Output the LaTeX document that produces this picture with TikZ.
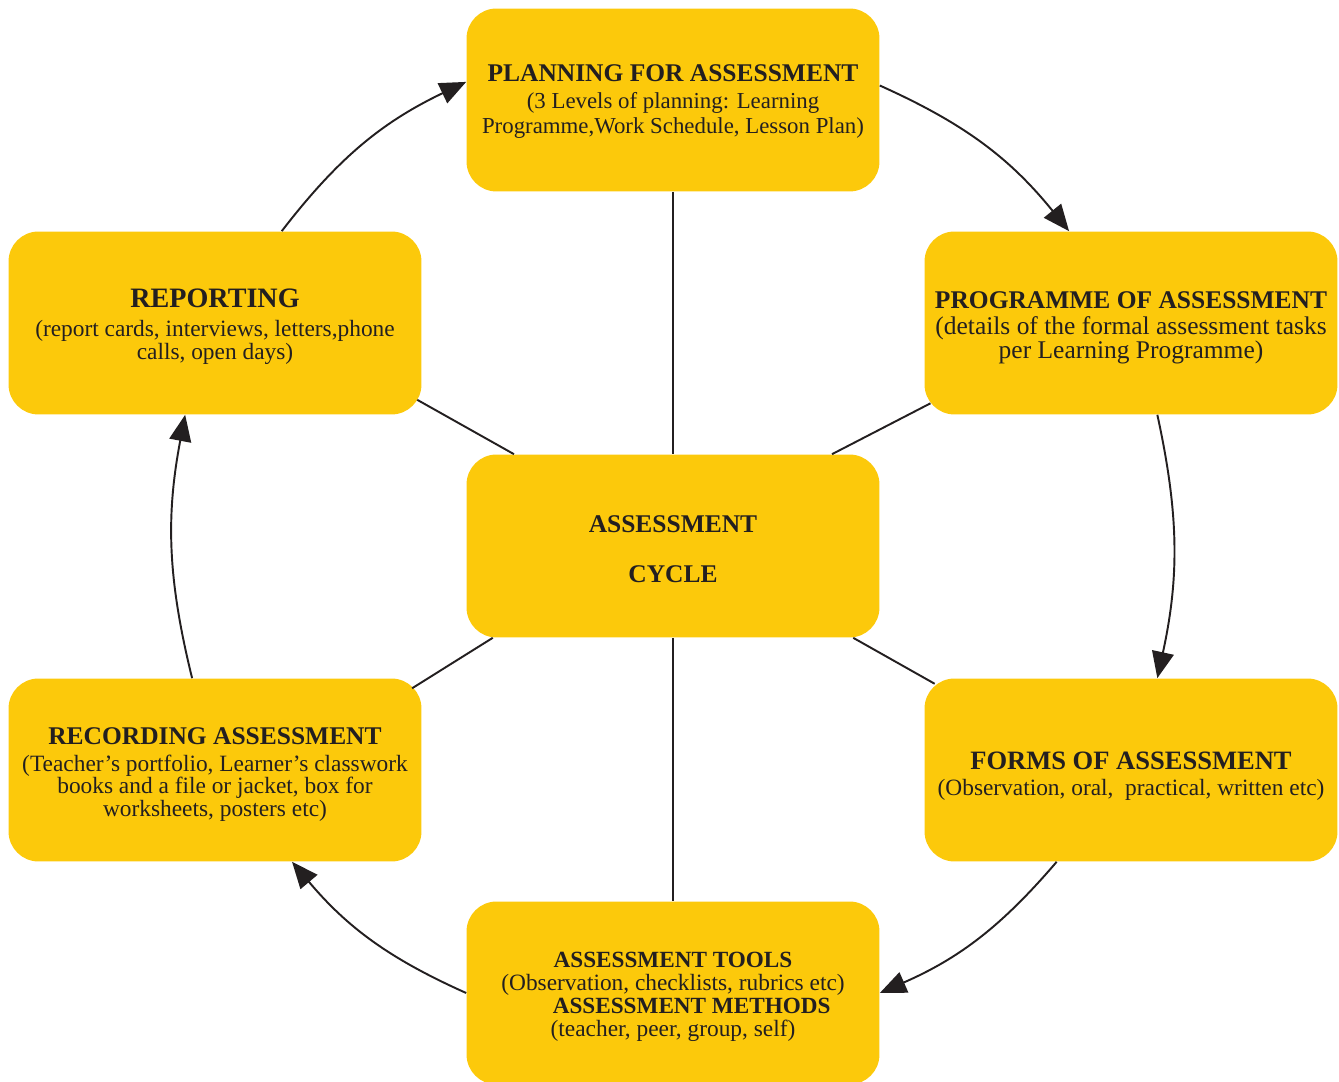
\documentclass[tikz,border=0pt]{standalone}
\usepackage{fontspec}
\setmainfont{Liberation Serif}
\usetikzlibrary{arrows.meta}
\definecolor{boxfill}{HTML}{FCC90B}
\definecolor{ink}{HTML}{231F20}
\newcommand{\ttl}[2][14.5]{{\fontsize{#1}{17}\selectfont\bfseries #2}}
\tikzset{
  stage/.style={draw=none, fill=boxfill, rounded corners=0.6cm, minimum width=8.26cm,
    minimum height=3.66cm, inner sep=0pt},
  txt/.style={align=center, text=ink, inner sep=0pt,
    font=\fontsize{13}{14.2}\selectfont},
  cyc/.style={draw=ink, line width=1.1pt, -{Triangle[length=15pt,width=12.5pt]}},
  spoke/.style={draw=ink, line width=1.1pt}
}
\begin{document}
\begin{tikzpicture}[x=0.02cm,y=0.02cm]
\useasboundingbox (0,0) rectangle (1339,1082);
\node[stage] (plan) at (673,982) {};
\node[stage] (prog) at (1131,759) {};
\node[stage] (rep) at (215,759) {};
\node[stage] (cen) at (673,536) {};
\node[stage] (rec) at (215,312) {};
\node[stage] (forms) at (1131,312) {};
\node[stage] (tools) at (673,89) {};

\node[txt] (planT) at ([yshift=-1pt]plan.center) {\ttl{PLANNING FOR ASSESSMENT}\\[1pt](3 Levels of planning: Learning\\Programme,Work Schedule, Lesson Plan)};
\node[txt, font=\fontsize{14.5}{14.2}\selectfont] (progT) at ([yshift=-2.8pt]prog.center) {\ttl{PROGRAMME OF ASSESSMENT}\\[0.5pt](details of the formal assessment tasks\\per Learning Programme)};
\node[txt, font=\fontsize{13.3}{13}\selectfont] (repT) at ([yshift=-2.3pt]rep.center) {\ttl[16]{REPORTING}\\[3.5pt](report cards, interviews, letters,phone\\calls, open days)};
\node[txt] (cenT) at ([yshift=-1.8pt]cen.center) {\ttl{ASSESSMENT}\\[14pt]\ttl{CYCLE}};
\node[txt, font=\fontsize{13.3}{13}\selectfont] (recT) at ([yshift=-2.7pt]rec.center) {\ttl{RECORDING ASSESSMENT}\\[2pt](Teacher’s portfolio, Learner’s classwork\\books and a file or jacket, box for\\worksheets, posters etc)};
\node[txt, font=\fontsize{13.3}{14.2}\selectfont] (formsT) at ([yshift=-3.6pt]forms.center) {\ttl[15.1]{FORMS OF ASSESSMENT}\\[1pt](Observation, oral,\ \ practical, written etc)};
\node[txt, font=\fontsize{13.3}{13.1}\selectfont] (toolsT) at ([yshift=-2.2pt]tools.center) {{\fontsize{13.2}{13.1}\selectfont\bfseries ASSESSMENT TOOLS}\\(Observation, checklists, rubrics etc)\\\hspace*{1.6em}{\fontsize{13.2}{13.1}\selectfont\bfseries ASSESSMENT METHODS}\\(teacher, peer, group, self)};

\draw[spoke] (plan.south) -- (cen.north);
\draw[spoke] (cen.south) -- (tools.north);
\draw[spoke, shorten <=-3pt] (rep.-21.6) -- (cen.150);
\draw[spoke, shorten <=-4pt] (prog.-158.3) -- (cen.30);
\draw[spoke, shorten <=-6.5pt] (rec.23.6) -- (cen.207.9);
\draw[spoke, shorten <=-6.5pt] (forms.156.3) -- (cen.-27.7);

\draw[cyc] (plan.4.1) to[bend left=13.4] (prog.124.7);
\draw[cyc] (prog.-74.2) to[bend left=12.3] (forms.74.2);
\draw[cyc] (forms.-129.6) to[bend left=12.9] (tools.east);
\draw[cyc] (tools.west) to[bend left=12.9] (rec.-50.8);
\draw[cyc] (rec.104) to[bend left=12.3] (rep.-108.1);
\draw[cyc] (rep.54.5) to[bend left=13.4] (plan.175.9);
\end{tikzpicture}
\end{document}
